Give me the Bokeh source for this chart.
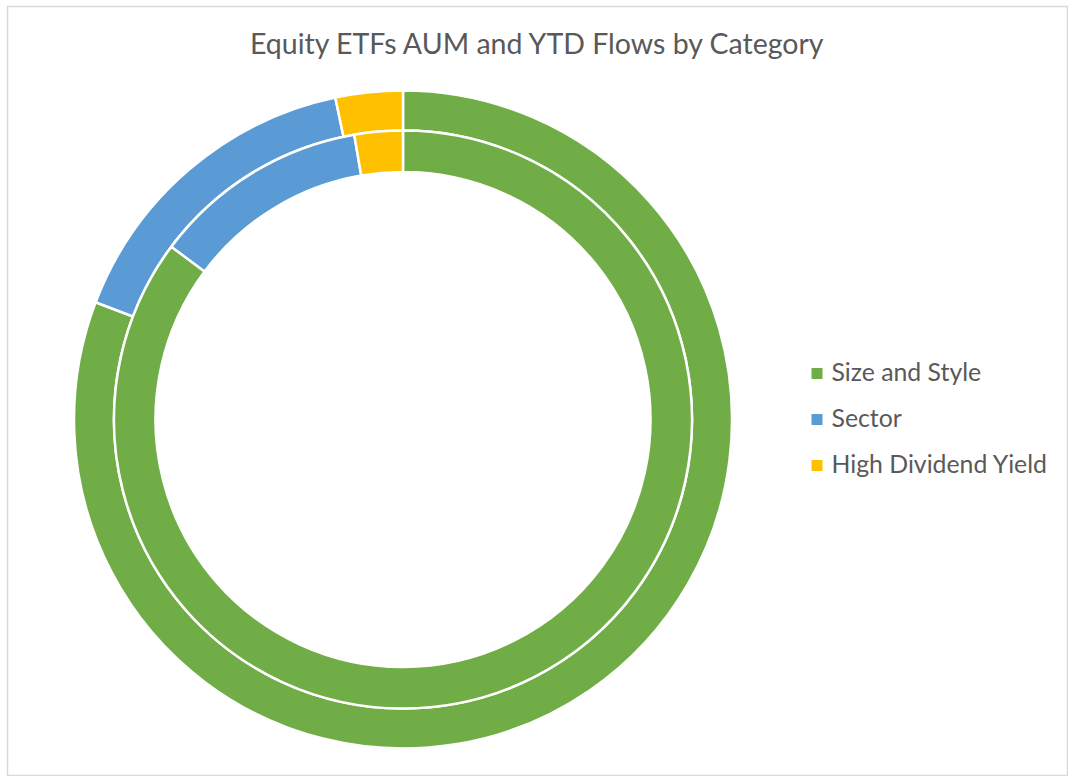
import numpy as np

from bokeh.core.properties import value
from bokeh.embed import file_html
from bokeh.models import ColumnDataSource
from bokeh.plotting import figure
from bokeh.resources import INLINE

# share of each category (percent)
categories = ["Size and Style", "Sector", "High Dividend Yield"]
colors = ["#70AD47", "#5B9BD5", "#FFC000"]
aum_share = [85.2, 12.1, 2.7]      # inner ring
flows_share = [80.8, 15.9, 3.3]    # outer ring

title = "Equity ETFs AUM and YTD Flows by Category"

# data units are pixels, y counted up from the picture's bottom edge
cx, cy = 402.5, 362


def ring(shares):
    frac = np.array(shares) / sum(shares)
    ends = np.cumsum(frac)
    starts = ends - frac
    return ColumnDataSource(dict(
        start=np.pi / 2 - starts * 2 * np.pi,
        end=np.pi / 2 - ends * 2 * np.pi,
        color=colors,
        label=categories,
    ))


p = figure(width=1068, height=776, x_range=(7, 1067), y_range=(6, 775),
           x_axis_type=None, y_axis_type=None,
           output_backend="svg", toolbar_location=None,
           min_border_left=7, min_border_top=6,
           min_border_right=1, min_border_bottom=1,
           background_fill_color="white")
p.grid.visible = False
p.outline_line_color = "#D9D9D9"
p.outline_line_width = 1.5

p.annular_wedge(x=cx, y=cy, inner_radius=289, outer_radius=329,
                start_angle="start", end_angle="end", direction="clock",
                fill_color="color", line_color="white", line_width=2.5,
                source=ring(flows_share))
p.annular_wedge(x=cx, y=cy, inner_radius=247.5, outer_radius=289,
                start_angle="start", end_angle="end", direction="clock",
                fill_color="color", line_color="white", line_width=2.5,
                source=ring(aum_share))

p.text(x=[538], y=[739], text=[title], text_font=value("Lato"),
       text_font_size="28.5px", text_color="#595959",
       text_align="center", text_baseline="middle")

# legend
ly = [408 - 46 * i for i in range(len(categories))]
p.scatter(x=[816.5] * len(categories), y=ly, marker="square", size=11,
          fill_color=colors, line_color=None)
p.text(x=[831] * len(categories), y=[v + 2 for v in ly], text=categories,
       text_font=value("Lato"), text_font_size="24.8px", text_color="#595959",
       text_align="left", text_baseline="middle")

open("out.html", "w").write(file_html(p, INLINE))
